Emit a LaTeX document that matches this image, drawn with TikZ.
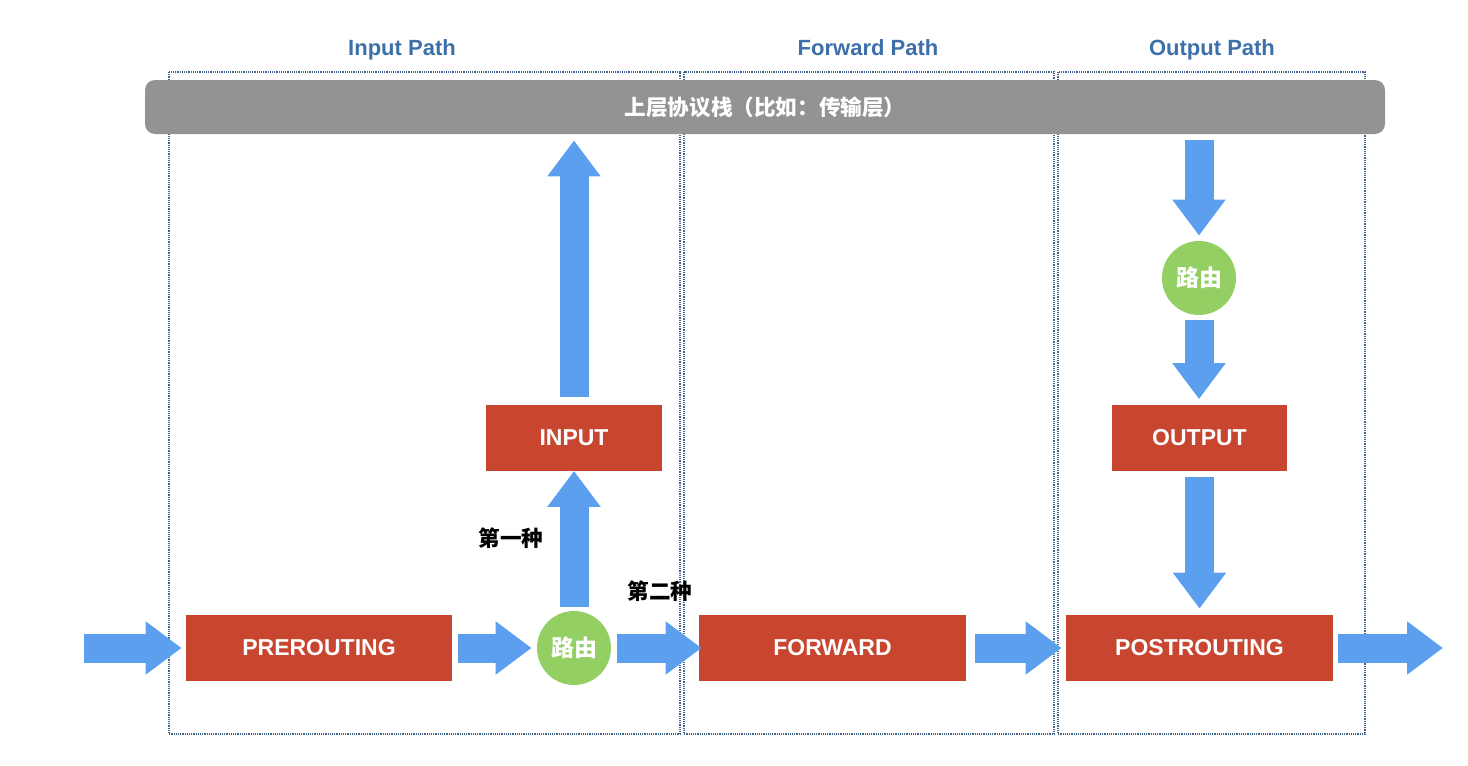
\documentclass[tikz,border=0pt]{standalone}
\usepackage{fontspec}
\setmainfont{Liberation Sans}
\newfontfamily\cjk{Noto Sans CJK SC}
\usepackage{xcolor}
\usepackage{tikz}
\usetikzlibrary{arrows.meta}
\usetikzlibrary{calc}
\definecolor{pathblue}{HTML}{3D6FA9}
\definecolor{zoneblue}{HTML}{43638F}
\definecolor{chainred}{HTML}{C8452F}
\definecolor{routegreen}{HTML}{93CF63}
\definecolor{arrowblue}{HTML}{5C9FEF}
\definecolor{stackgray}{HTML}{939393}

\begin{document}
\begin{tikzpicture}[x=0.5pt,y=-0.5pt,
  chain/.style={fill=chainred, text=white, inner sep=0pt, minimum height=33pt, font=\bfseries\fontsize{11.5}{14}\selectfont},
  route/.style={circle, fill=routegreen, text=white, inner sep=0pt, minimum size=37pt, font=\cjk\bfseries\fontsize{11.5}{14}\selectfont},
  fat/.style={draw=arrowblue, line width=14.5pt, -{Triangle[length=18pt,width=25.5pt]}},
  zone/.style={draw=zoneblue, line width=0.6pt, dash pattern=on 0.6pt off 0.5pt},
  title/.style={text=pathblue, anchor=base, font=\bfseries\fontsize{11}{13}\selectfont},
  kind/.style={text=black, font=\cjk\bfseries\fontsize{10.8}{13}\selectfont}]
\useasboundingbox (0,0) rectangle (1468,766);

%% the three paths
\draw[zone] (169,72) rectangle (680,734);
\draw[zone] (684,72) rectangle (1054,734);
\draw[zone] (1058,72) rectangle (1365,734);
\node[title] (tin) at (402,55) {Input Path};
\node[title] (tfwd) at (868,55) {Forward Path};
\node[title] (tout) at (1212,55) {Output Path};

\node[fill=stackgray, rounded corners=5pt, text=white, minimum width=620pt, minimum height=27pt, font=\cjk\bfseries\fontsize{10.8}{13}\selectfont] (stack) at (765,107) {上层协议栈（比如：传输层）};

%% chains
\node[chain, minimum width=133pt] (pre) at (319,648) {PREROUTING};
\node[chain, minimum width=88pt] (input) at (574,437.5) {INPUT};
\node[chain, minimum width=133.5pt] (fwd) at (832.5,648) {FORWARD};
\node[chain, minimum width=87.5pt] (output) at (1199.5,437.5) {OUTPUT};
\node[chain, minimum width=133.5pt] (post) at (1199.5,648) {POSTROUTING};
\node[route] (r1) at (574,648) {路由};
\node[route] (r2) at (1199,278) {路由};

\coordinate (in) at (84,648);
\coordinate (out) at (1443,648);

%% arrows
\draw[fat, shorten >=2pt] (in) -- (pre.west);
\draw[fat, shorten <=3pt, shorten >=2.5pt] (pre.east) -- (r1.west);
\draw[fat, shorten <=3pt, shorten >=-1.5pt] (r1.east) -- (fwd.west);
\draw[fat, shorten <=4.5pt, shorten >=2pt] (fwd.east) -- (post.west);
\draw[fat, shorten <=2.5pt] (post.east) -- (out);
\draw[fat, shorten <=2pt] (r1.north) -- (input.south);
\draw[fat, shorten <=3.5pt, shorten >=3pt] (input.north) -- (input.north |- stack.south);
\draw[fat, shorten <=3pt, shorten >=2.5pt] (r2.north |- stack.south) -- (r2.north);
\draw[fat, shorten <=2.5pt, shorten >=2.5pt] (r2.south) -- (r2.south |- output.north);
\draw[fat, shorten <=3pt, shorten >=3pt] (output.south) -- (output.south |- post.north);

\node[kind] (first) at (511,538) {第一种};
\node[kind] (second) at (660,591) {第二种};
\end{tikzpicture}
\end{document}
